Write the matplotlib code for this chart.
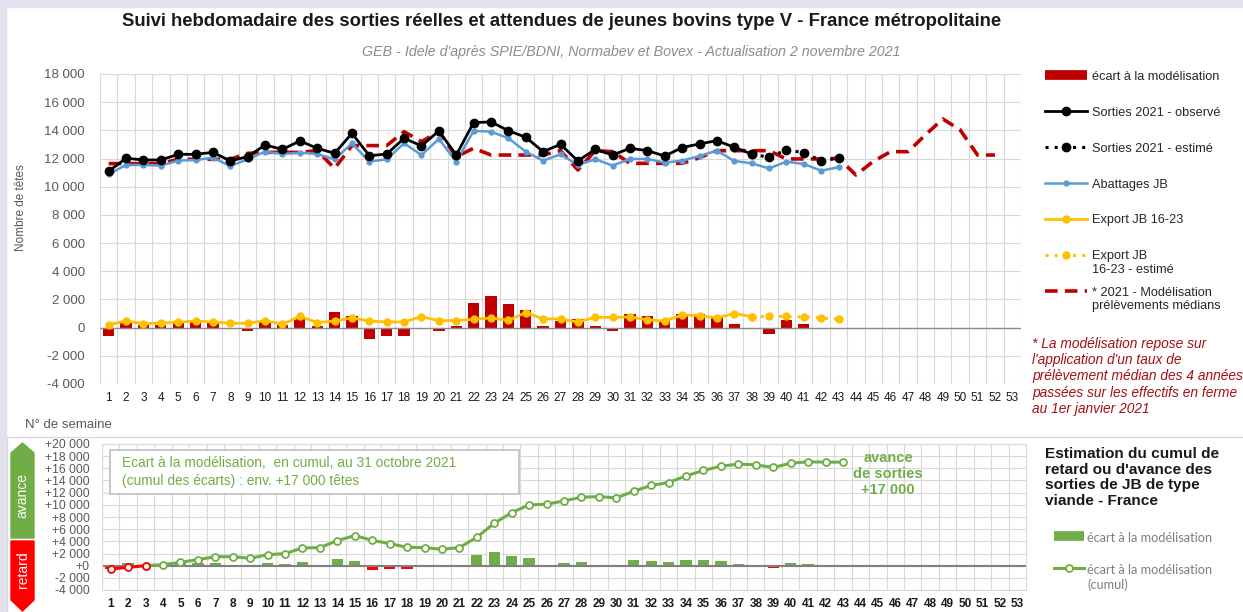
import matplotlib
matplotlib.use("Agg")
import matplotlib.pyplot as plt
import numpy as np
from matplotlib.lines import Line2D
from matplotlib.patches import Polygon, Rectangle

plt.rcParams['font.family'] = ['Liberation Sans', 'DejaVu Sans']

# ---- data ----
weeks = np.arange(1, 54)
week_labels = [str(w) for w in weeks]

ecart = [-590, 400, 170, 170, 400, 400, 400, -70, -240, 470, 210, 640, 120, 1090, 800,
         -780, -620, -620, -120, -240, 90, 1750, 2280, 1660, 1280, 90, 470, 590, 90, -240,
         1000, 800, 570, 1000, 950, 690, 240, -90, -430, 520, 280, -90, -50]

sorties = [11100, 12020, 11900, 11900, 12300, 12300, 12440, 11830, 12140, 12960, 12650,
           13250, 12730, 12370, 13790, 12200, 12320, 13440, 12900, 13960, 12250, 14550,
           14600, 13980, 13510, 12490, 13010, 11830, 12650, 12250, 12730, 12560, 12180,
           12780, 13040, 13270, 12800, 12320, 12090, 12610, 12420, 11850, 12020]

abattages = [10900, 11540, 11540, 11500, 11850, 11900, 12060, 11470, 11950, 12490, 12320,
             12420, 12320, 11950, 13080, 11780, 11950, 13080, 12250, 13390, 11780, 13960,
             13910, 13440, 12490, 11850, 12300, 11540, 11950, 11500, 11970, 11970, 11710,
             11850, 12180, 12560, 11830, 11660, 11300, 11780, 11610, 11140, 11380]

export = [210, 470, 280, 330, 380, 470, 400, 310, 310, 500, 240, 800, 360, 470, 690, 470,
          400, 400, 780, 500, 500, 590, 690, 520, 1070, 620, 620, 400, 730, 730, 760, 550,
          470, 900, 850, 690, 1000, 780, 800, 800, 760, 690, 590]

modele = [11640, 11640, 11640, 11640, 11950, 11950, 11950, 11950, 12370, 12440, 12440,
          12440, 12560, 11300, 12920, 12920, 12920, 13910, 13200, 13910, 12130, 12730,
          12250, 12250, 12250, 12250, 12560, 11190, 12560, 12490, 11660, 11660, 11660,
          11660, 12060, 12560, 12560, 12560, 12560, 11970, 11970, 11970, 12020, 10830,
          11800, 12490, 12490, 13680, 14810, 14030, 12250, 12250]

cumul = [-550, -270, 0, 160, 550, 990, 1480, 1480, 1210, 1810, 1980, 2910, 2970, 4120,
         4940, 4170, 3620, 3020, 2970, 2690, 2970, 4670, 6970, 8730, 9990, 10100, 10650,
         11250, 11360, 11140, 12240, 13180, 13670, 14770, 15650, 16360, 16690, 16580,
         16140, 16850, 17070, 17020, 17020]

last_observed = 38   # semaine ou commence l'estimation

RED = '#c00000'
GREEN = '#70ad47'
BLUE = '#5b9bd5'
YELLOW = '#ffc000'
GRID = '#d9d9d9'
GREY_TXT = '#595959'

W, H = 1243, 612
def fx(px):
    return px / W
def fy(py):
    return 1 - py / H

fig = plt.figure(figsize=(12.43, 6.12), dpi=100)

# lavender border
fig.patches.append(Rectangle((0, fy(7)), 1, 7 / H, transform=fig.transFigure,
                             color='#e4e1ef', zorder=0))
fig.patches.append(Rectangle((0, 0), 6 / W, 1, transform=fig.transFigure,
                             color='#e4e1ef', zorder=0))
# separation lines of the lower block
fig.lines.append(Line2D([fx(7), 1], [fy(437), fy(437)], transform=fig.transFigure,
                        color=GRID, lw=1))
fig.lines.append(Line2D([fx(7), fx(7)], [0, fy(437)], transform=fig.transFigure,
                        color=GRID, lw=1))

fig.text(fx(562), fy(22), "Suivi hebdomadaire des sorties réelles et attendues de jeunes bovins type V - France métropolitaine",
         ha='center', va='center', fontsize=13.3, fontweight='bold', color='#1a1a1a')
fig.text(fx(631), fy(52), "GEB - Idele d'après SPIE/BDNI, Normabev et Bovex - Actualisation 2 novembre 2021",
         ha='center', va='center', fontsize=10.3, style='italic', color='#8c8c8c')

# ---- top chart ----
ax1 = fig.add_axes([fx(100), fy(384), 921 / W, 310 / H])
w43 = weeks[:len(ecart)]
ax1.bar(w43, ecart, width=0.65, color=RED, zorder=2)
ax1.plot(weeks[:len(modele)], modele, color=RED, lw=2.6, dashes=(3.5, 2), zorder=3)
n = last_observed
ax1.plot(w43[:n], export[:n], color=YELLOW, lw=2, marker='o', ms=5, zorder=4)
ax1.plot(w43[n - 1:], export[n - 1:], color=YELLOW, lw=2.2, ls=(0, (1, 2)), marker='o', ms=5, zorder=4)
ax1.plot(w43, abattages, color=BLUE, lw=1.8, marker='o', ms=3.5, zorder=4)
ax1.plot(w43[:n], sorties[:n], color='black', lw=2, marker='o', ms=6, zorder=5)
ax1.plot(w43[n - 1:], sorties[n - 1:], color='black', lw=2.2, ls=(0, (1, 2)), marker='o', ms=6, zorder=5)
ax1.axhline(0, color='#8c8c8c', lw=1, zorder=2)

ax1.set_xlim(0.5, 53.5)
ax1.set_ylim(-4000, 18000)
ax1.set_xticks(weeks)
ax1.set_xticklabels(week_labels, fontsize=8.5, color='#1a1a1a')
ax1.set_xticks(np.arange(0.5, 54, 1), minor=True)
yt = np.arange(-4000, 18001, 2000)
ax1.set_yticks(yt)
ax1.set_yticklabels([f"{v:,}".replace(",", " ") for v in yt], fontsize=9.5, color=GREY_TXT)
ax1.tick_params(axis='both', which='both', length=0)
ax1.tick_params(axis='y', pad=11)
ax1.tick_params(axis='x', pad=6)
ax1.grid(which='minor', axis='x', color=GRID, lw=0.8)
ax1.grid(which='major', axis='y', color=GRID, lw=0.8)
ax1.set_axisbelow(True)
for s in ax1.spines.values():
    s.set_visible(False)
ax1.set_ylabel("Nombre de têtes", fontsize=8.5, color=GREY_TXT)
ax1.yaxis.set_label_coords(-0.079, 0.568)


def legend_entry(y, label, x0, x1, xt, text_kw, **line_kw):
    """Une ligne de légende dessinée en coordonnées pixel de la figure."""
    xm = (x0 + x1) / 2
    fig.lines.append(Line2D([fx(x0), fx(xm), fx(x1)], [fy(y)] * 3,
                            transform=fig.transFigure, markevery=[1], **line_kw))
    fig.text(fx(xt), fy(y - 4.5), label, ha='left', va='top', **text_kw)


# top legend
top_kw = dict(fontsize=9.2, color='#262626', linespacing=1.15)
top_entries = [
    ("écart à la modélisation", dict(color=RED, lw=7, solid_capstyle='butt')),
    ("Sorties 2021 - observé", dict(color='black', lw=2, marker='o', ms=6)),
    ("Sorties 2021 - estimé", dict(color='black', lw=2.2, ls=(0, (1, 2)), marker='o', ms=6)),
    ("Abattages JB", dict(color=BLUE, lw=1.8, marker='o', ms=3.5)),
    ("Export JB 16-23", dict(color=YELLOW, lw=2, marker='o', ms=5)),
    ("Export JB\n16-23 - estimé", dict(color=YELLOW, lw=2.2, ls=(0, (1, 2)), marker='o', ms=5)),
    ("* 2021 - Modélisation\nprélèvements médians", dict(color=RED, lw=2.6, dashes=(3.5, 2))),
]
for i, (lab, kw) in enumerate(top_entries):
    legend_entry(75 + 36 * i, lab, 1045, 1087, 1092, top_kw, **kw)

fig.text(fx(1032), fy(337), "* La modélisation repose sur\nl'application d'un taux de\n"
         "prélèvement médian des 4 années\npassées sur les effectifs en ferme\nau 1er janvier 2021",
         ha='left', va='top', fontsize=9.9, style='italic', color='#a50f15', linespacing=1.2)

fig.text(fx(25), fy(425), "N° de semaine", ha='left', va='center', fontsize=9.5, color=GREY_TXT)

# ---- bottom chart ----
ax2 = fig.add_axes([fx(102), fy(590), 924 / W, 146 / H])
bar_colors = [GREEN if v >= 0 else '#ff0000' for v in ecart]
ax2.bar(w43, ecart, width=0.65, color=bar_colors, zorder=2)
ax2.axhline(0, color='#808080', lw=1.5, zorder=2)
ax2.plot(w43[:3], cumul[:3], color='#ff0000', lw=2.2, marker='o', ms=5,
         mfc='white', mec='#ff0000', mew=1.3, zorder=4)
ax2.plot(w43[2:], cumul[2:], color=GREEN, lw=2.2, marker='o', ms=5,
         mfc='white', mec=GREEN, mew=1.3, zorder=3)

ax2.set_xlim(0.5, 53.5)
ax2.set_ylim(-4000, 20000)
ax2.set_xticks(weeks)
ax2.set_xticklabels(week_labels, fontsize=8.5, fontweight='bold', color='#1a1a1a')
ax2.set_xticks(np.arange(0.5, 54, 1), minor=True)
yt2 = np.arange(-4000, 20001, 2000)
ax2.set_yticks(yt2)
ax2.set_yticklabels([("+" if v >= 0 else "-") + f"{abs(v):,}".replace(",", " ") for v in yt2],
                    fontsize=8.7, color=GREY_TXT)
ax2.tick_params(axis='both', which='both', length=0)
ax2.tick_params(axis='y', pad=9)
ax2.tick_params(axis='x', pad=6)
ax2.grid(which='minor', axis='x', color=GRID, lw=0.8)
ax2.grid(which='major', axis='y', color=GRID, lw=0.8)
ax2.set_axisbelow(True)
for s in ax2.spines.values():
    s.set_color(GRID)

# avance / retard arrows
fig.patches.append(Polygon([(fx(11), fy(538)), (fx(11), fy(453)), (fx(22.5), fy(443)),
                            (fx(34), fy(453)), (fx(34), fy(538))], closed=True,
                           transform=fig.transFigure, color=GREEN))
fig.patches.append(Polygon([(fx(11), fy(541)), (fx(11), fy(600)), (fx(22.5), fy(611)),
                            (fx(34), fy(600)), (fx(34), fy(541))], closed=True,
                           transform=fig.transFigure, color='#ff0000'))
fig.text(fx(22.5), fy(495), "avance", rotation=90, ha='center', va='center',
         color='white', fontsize=10)
fig.text(fx(22.5), fy(570), "retard", rotation=90, ha='center', va='center',
         color='white', fontsize=10)

# annotation box
fig.patches.append(Rectangle((fx(110), fy(494)), 409 / W, 44 / H, transform=fig.transFigure,
                             fc='white', ec='#bfbfbf', lw=1.2, zorder=5))
fig.text(fx(122), fy(472), "Ecart à la modélisation,  en cumul, au 31 octobre 2021\n"
         "(cumul des écarts) : env. +17 000 têtes", ha='left', va='center',
         fontsize=9.9, color=GREEN, linespacing=1.4, zorder=6)
fig.text(fx(888), fy(474), "avance\nde sorties\n+17 000", ha='center', va='center',
         fontsize=10.5, fontweight='bold', color=GREEN, linespacing=1.15)

fig.text(fx(1045), fy(447), "Estimation du cumul de\nretard ou d'avance des\nsorties de JB de type\nviande - France",
         ha='left', va='top', fontsize=11.1, fontweight='bold', color='#1a1a1a', linespacing=1.15)

# bottom legend
bot_kw = dict(fontsize=9.2, color='#7f7f7f', family='Lato', linespacing=1.3)
legend_entry(536, "écart à la modélisation", 1054, 1084, 1087, bot_kw,
             color=GREEN, lw=7, solid_capstyle='butt')
legend_entry(568, "écart à la modélisation\n(cumul)", 1054, 1084, 1087, bot_kw,
             color=GREEN, lw=2.2, marker='o', ms=5, mfc='white', mec=GREEN, mew=1.3)

fig.savefig("out.png", dpi=100)
